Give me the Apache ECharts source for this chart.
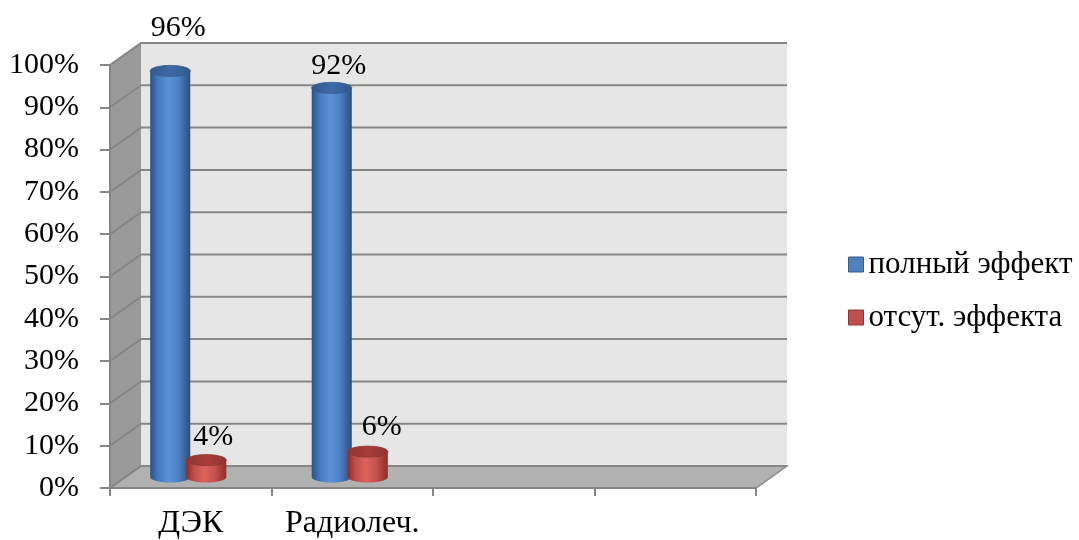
<!DOCTYPE html>
<html>
<head>
<meta charset="utf-8">
<script src="https://cdn.jsdelivr.net/npm/echarts@6/dist/echarts.min.js"></script>
<style>
html,body{margin:0;padding:0;background:#fff;}
#chart{width:1079px;height:540px;}
</style>
</head>
<body>
<div id="chart"></div>
<script>
// ---- data ----
const categories = ['ДЭК', 'Радиолеч.', '', ''];
const seriesNames = ['полный эффект', 'отсут. эффекта'];
const fullEffect = [0.96, 0.92, null, null];
const noEffect = [0.04, 0.06, null, null];
const yTicks = [0, 0.1, 0.2, 0.3, 0.4, 0.5, 0.6, 0.7, 0.8, 0.9, 1.0];

// ---- style / layout constants ----
const FONT = '"Liberation Serif", "Times New Roman", serif';
const DX = 31, DY = -22;          // 3D depth offset (px)
const RY = 5.5;                   // cylinder cap half-height
const labelNudge = {
  'полный эффект': [[8, -43], [7, -22]],
  'отсут. эффекта': [[7, -23], [14, -24]]
};
const palettes = {
  'полный эффект': {
    body: ['#2b5283', '#4679bd', '#5b91d8', '#4c81c6', '#2a4e7e'],
    cap: '#3d6aa6', capStroke: '#34598c', legend: '#4f81bd', legendBorder: '#385d8a', frac: -0.223
  },
  'отсут. эффекта': {
    body: ['#922c29', '#c0504d', '#dc625e', '#c9524e', '#8e2b28'],
    cap: '#a83d39', capStroke: '#8f3330', legend: '#c0504d', legendBorder: '#8c3836', frac: 0.0
  }
};

function ellipsePts(cx, cy, rx, ry, a0, a1, n) {
  const pts = [];
  for (let i = 0; i <= n; i++) {
    const a = a0 + (a1 - a0) * i / n;
    pts.push([cx + rx * Math.cos(a), cy + ry * Math.sin(a)]);
  }
  return pts;
}

function wallsRender(params, api) {
  const band = api.size([1, 0])[0];
  const x0 = api.coord([0, 0])[0] - band / 2;
  const x1 = api.coord([categories.length - 1, 0])[0] + band / 2;
  const yAt = v => api.coord([0, v])[1];
  const y0 = yAt(yTicks[0]), yTop = yAt(yTicks[yTicks.length - 1]);
  const ch = [];
  ch.push({ type: 'polygon', shape: { points: [[x0 + DX, yTop + DY], [x1 + DX, yTop + DY], [x1 + DX, y0 + DY], [x0 + DX, y0 + DY]] }, style: { fill: '#e6e6e6' } });
  ch.push({ type: 'polygon', shape: { points: [[x0, y0], [x0 + DX, y0 + DY], [x0 + DX, yTop + DY], [x0, yTop]] }, style: { fill: '#9a9a9a' } });
  ch.push({ type: 'polygon', shape: { points: [[x0, y0], [x1, y0], [x1 + DX, y0 + DY], [x0 + DX, y0 + DY]] }, style: { fill: '#b1b1b1', stroke: '#8a8a8a', lineWidth: 1.5 } });
  yTicks.forEach(v => {
    const y = yAt(v);
    ch.push({ type: 'polyline', shape: { points: [[x0, y], [x0 + DX, y + DY], [x1 + DX, y + DY]] }, style: { stroke: '#868686', lineWidth: 2, fill: 'none' } });
  });
  return { type: 'group', children: ch };
}

function cylRender(name) {
  const pal = palettes[name];
  return function (params, api) {
    const cat = api.value(0), v = api.value(1);
    const band = api.size([1, 0])[0];
    const base = api.coord([cat, 0]);
    const top = api.coord([cat, v]);
    const cx = base[0] + pal.frac * band + DX / 2;
    const by = base[1] + DY / 2;
    const ty = top[1] + DY / 2;
    const rx = band * 0.124;
    const grad = {
      type: 'linear', x: 0, y: 0, x2: 1, y2: 0,
      colorStops: pal.body.map((c, i) => ({ offset: [0, 0.2, 0.45, 0.7, 1][i], color: c }))
    };
    // bottom half ellipse: from left through bottom to right
    const bottom = ellipsePts(cx, by, rx, RY, Math.PI, 0, 30);
    const poly = [[cx - rx, ty]].concat(bottom.map(p => [p[0], by + Math.abs(p[1] - by)])).concat([[cx + rx, ty]]);
    const nudge = labelNudge[name][params.dataIndex] || [8, -23];
    return {
      type: 'group',
      children: [
        { type: 'polygon', shape: { points: poly }, style: { fill: grad } },
        { type: 'polygon', shape: { points: ellipsePts(cx, ty, rx, RY, 0, Math.PI * 2, 48) },
          style: { fill: { type: 'linear', x: 0, y: 0, x2: 1, y2: 0, colorStops: [{ offset: 0, color: pal.capStroke }, { offset: 0.5, color: pal.cap }, { offset: 1, color: pal.capStroke }] }, stroke: pal.capStroke, lineWidth: 0.8 } },
        { type: 'text', x: cx + nudge[0], y: ty + nudge[1],
          style: { text: Math.round(v * 100) + '%', fill: '#000', font: '30px ' + FONT, align: 'center', verticalAlign: 'middle' } }
      ]
    };
  };
}

function toData(arr) {
  return arr.map((v, i) => [i, v]).filter(d => d[1] != null);
}

const chart = echarts.init(document.getElementById('chart'), null, { renderer: 'canvas' });
chart.setOption({
  backgroundColor: '#ffffff',
  animation: false,
  grid: { left: 110, right: 323, top: 65, bottom: 52 },
  legend: {
    orient: 'vertical', left: 843, top: 244, itemWidth: 15, itemHeight: 15, itemGap: 22,
    textStyle: { fontFamily: FONT, fontSize: 31, color: '#000' },
    data: seriesNames.map(n => ({ name: n, icon: 'rect', itemStyle: { color: palettes[n].legend, borderColor: palettes[n].legendBorder, borderWidth: 1 } }))
  },
  xAxis: {
    type: 'category', data: categories, z: 10,
    axisLine: { show: true, lineStyle: { color: '#868686', width: 2 } },
    axisTick: { show: true, interval: 0, length: 8, lineStyle: { color: '#868686', width: 2 } },
    axisLabel: { interval: 0, hideOverlap: false, fontFamily: FONT, fontSize: 32, color: '#000', margin: 20 },
    splitLine: { show: false }
  },
  yAxis: {
    type: 'value', min: 0, max: 1, interval: 0.1, z: 10,
    axisLine: { show: true, lineStyle: { color: '#868686', width: 2 } },
    axisTick: { show: true, length: 10, lineStyle: { color: '#868686', width: 2 } },
    axisLabel: { fontFamily: FONT, fontSize: 30, color: '#000', margin: 31, formatter: v => Math.round(v * 100) + '%' },
    splitLine: { show: false }
  },
  series: [
    { type: 'custom', name: '_walls', z: 1, silent: true, renderItem: wallsRender, data: [[0, 0]] },
    { type: 'custom', name: seriesNames[0], z: 3, renderItem: cylRender(seriesNames[0]), itemStyle: { color: palettes[seriesNames[0]].legend }, data: toData(fullEffect) },
    { type: 'custom', name: seriesNames[1], z: 3, renderItem: cylRender(seriesNames[1]), itemStyle: { color: palettes[seriesNames[1]].legend }, data: toData(noEffect) }
  ]
});
</script>
</body>
</html>
